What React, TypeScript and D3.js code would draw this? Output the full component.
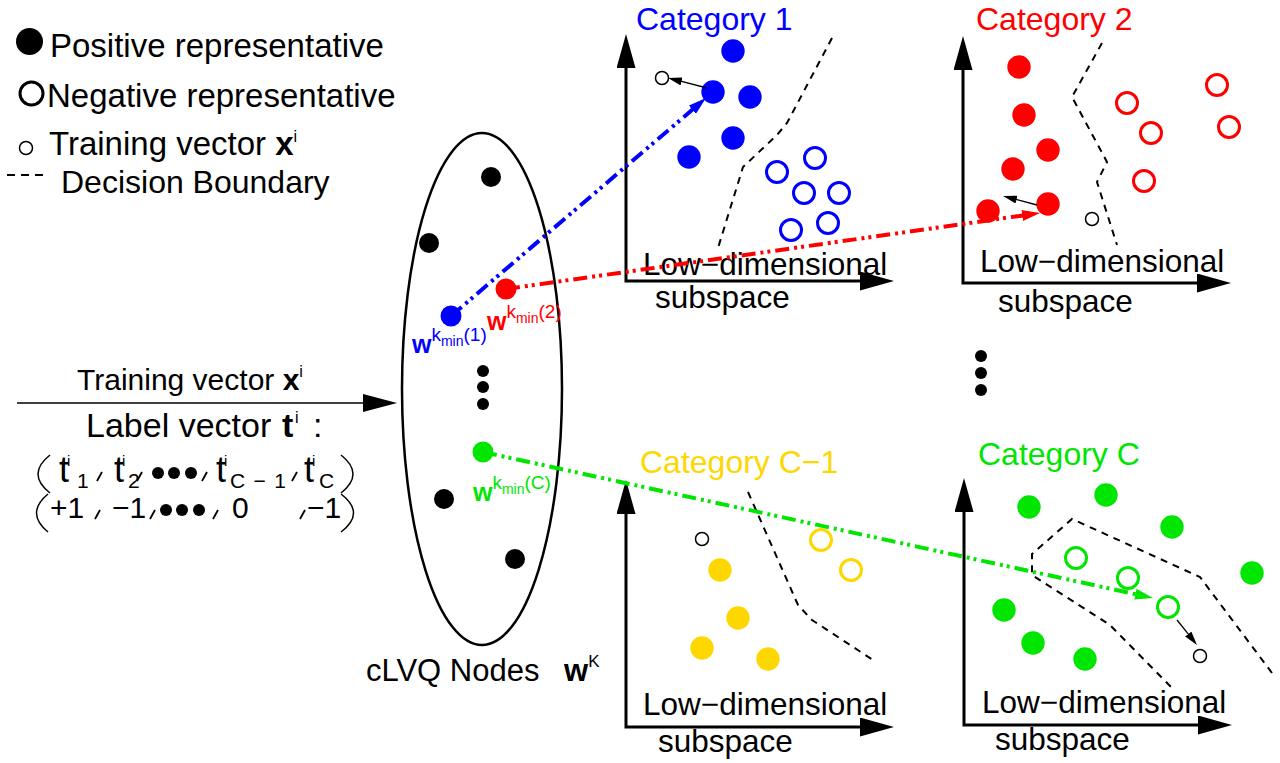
import * as d3 from "d3";

const FONT = "'Liberation Sans', Arial, Helvetica, sans-serif";
const BLUE = "#0000ff";
const RED = "#ff0000";
const GREEN = "#00e600";
const GOLD = "#ffd700";

type Pt = [number, number];

// Panel contents, in axis units from each panel's corner (y grows upward)
const cat1Positive: Pt[] = [[107, 230], [87, 189], [124, 184], [107, 143], [63, 124]];
const cat1Negative: Pt[] = [[189, 123], [151, 109], [178, 88], [213, 88], [165, 51], [202, 58]];
const cat1Training: Pt = [36, 203];
const cat1Boundary: Pt[] = [[206, 243], [161, 158], [151, 146], [117, 114], [92, 33]];
const cat1Update: Pt[] = [[81, 193], [42, 203]];

const cat2Positive: Pt[] = [[56, 216], [61, 168], [85, 133], [50, 114], [85, 79], [25, 72]];
const cat2Negative: Pt[] = [[164, 180], [188, 150], [254, 198], [266, 156], [181, 102]];
const cat2Training: Pt = [129, 64];
const cat2Boundary: Pt[] = [[139, 240], [109, 186], [144, 121], [134, 101], [154, 38]];
const cat2Update: Pt[] = [[74, 78], [40, 87]];

const catC1Positive: Pt[] = [[94, 157], [112, 109], [76, 79], [142, 68]];
const catC1Negative: Pt[] = [[195, 187], [225, 157]];
const catC1Training: Pt = [76, 188];
const catC1Boundary: Pt[] = [[122, 235], [172, 122], [186, 107], [247, 67]];

const catCPositive: Pt[] = [[65, 218], [142, 230], [208, 198], [288, 152], [40, 115], [69, 82], [121, 66]];
const catCNegative: Pt[] = [[112, 167], [164, 147], [204, 118]];
const catCTraining: Pt = [236, 69];
const catCBoundary: Pt[] = [[308, 52], [236, 148], [108, 206], [68, 171], [68, 150], [146, 100], [208, 37]];
const catCUpdate: Pt[] = [[213, 105], [233, 80]];

// cLVQ nodes, offsets from the ellipse centre (y grows downward)
const plainNodes: Pt[] = [[9, -212], [-53, -146], [-38, 110], [33, 170]];
const ellipsisDots: Pt[] = [[1, -18], [1, -2], [1, 15]];
const winnerIndex = ["1", "2", "C"];
const winnerColors = [BLUE, RED, GREEN];
const winnerNodes: Pt[] = [[-31, -73], [24, -100], [1, 63]];
const winnerPanel = [0, 1, 3];
const winnerTips: Pt[] = [[80, 183], [77, 70], [189, 127]];

const titles = ["Category 1", "Category 2", "Category C\u22121", "Category C"];
const titleColors = [BLUE, RED, GOLD, GREEN];

// label vector rows
const row1Subs = ["1", "2", "C\u22121", "C"];
const row2Values = ["+1", "\u22121", "0", "\u22121"];

// layout
const W = 1280;
const H = 763;
const AX_W = 268;
const AX_H = 247;
const panels = [
  { ox: 626, oy: 281, tdx: 10, tdy: 251, ldx: 17, ldy: 6, sdx: 29, sdy: 27,
    pos: cat1Positive, neg: cat1Negative, tr: cat1Training, bd: cat1Boundary, up: cat1Update },
  { ox: 963, oy: 283, tdx: 13, tdy: 253, ldx: 17, ldy: 11, sdx: 35, sdy: 29,
    pos: cat2Positive, neg: cat2Negative, tr: cat2Training, bd: cat2Boundary, up: cat2Update },
  { ox: 626, oy: 727, tdx: 14, tdy: 254, ldx: 17, ldy: 12, sdx: 32, sdy: 25,
    pos: catC1Positive, neg: catC1Negative, tr: catC1Training, bd: catC1Boundary, up: null },
  { ox: 964, oy: 725, tdx: 14, tdy: 260, ldx: 18, ldy: 12, sdx: 31, sdy: 25,
    pos: catCPositive, neg: catCNegative, tr: catCTraining, bd: catCBoundary, up: catCUpdate },
];
const ELL = { cx: 482, cy: 389, rx: 80, ry: 256 };
const winnerLabelOffset: Pt[] = [[-39, 37], [-19, 41], [-10, 49]];
const row1X = [{ t: 59, s: 77, w: 0 }, { t: 114, s: 128, w: 0 }, { t: 216, s: 230, w: 56 }, { t: 304, s: 319, w: 0 }];
const row1Commas = [97, 137, 202, 292];
const row1Dots = [158, 174, 191];
const row2X = [50, 112, 232, 307];
const row2Commas = [95, 150, 213, 300];
const row2Dots = [166, 182, 199];

const panelScales = panels.map((p) => ({
  x: d3.scaleLinear().domain([0, AX_W]).range([p.ox, p.ox + AX_W]),
  y: d3.scaleLinear().domain([0, AX_H]).range([p.oy, p.oy - AX_H]),
}));
const ex = d3.scaleLinear().domain([-ELL.rx, ELL.rx]).range([ELL.cx - ELL.rx, ELL.cx + ELL.rx]);
const ey = d3.scaleLinear().domain([-ELL.ry, ELL.ry]).range([ELL.cy - ELL.ry, ELL.cy + ELL.ry]);

// pull an end point back so the stroke hides under the arrow head
function shorten(x1: number, y1: number, x2: number, y2: number, d: number): Pt {
  const len = Math.hypot(x2 - x1, y2 - y1);
  return [x2 - ((x2 - x1) / len) * d, y2 - ((y2 - y1) / len) * d];
}

const DASH_DOT = "14,5,3,4,3,5";

function Head({ id, color, len, wid, back }: { id: string; color: string; len: number; wid: number; back: number }) {
  return (
    <marker id={id} markerUnits="userSpaceOnUse" viewBox={`0 0 ${len} ${wid}`} markerWidth={len} markerHeight={wid}
      refX={len - back} refY={wid / 2} orient="auto-start-reverse">
      <path d={`M0,0L${len},${wid / 2}L0,${wid}Z`} fill={color} />
    </marker>
  );
}

function Comma({ x, y }: { x: number; y: number }) {
  return <line x1={x + 5} y1={y - 9} x2={x} y2={y} stroke="#000" strokeWidth={1.8} />;
}

export default function App() {
  const line = d3.line<Pt>();
  return (
    <div style={{ position: "absolute", left: 0, top: 0 }}>
      <svg width={W} height={H} viewBox={`0 0 ${W} ${H}`} style={{ display: "block", background: "#fff" }}
        fontFamily={FONT}>
        <defs>
          <Head id="axis" color="#000" len={34} wid={19} back={25} />
          <Head id="h0" color={BLUE} len={18} wid={11} back={12} />
          <Head id="h1" color={RED} len={18} wid={11} back={12} />
          <Head id="h2" color={GREEN} len={18} wid={11} back={12} />
          <Head id="small" color="#000" len={14} wid={8} back={10} />
        </defs>

        {/* legend */}
        <circle cx={29.5} cy={41.5} r={13.5} fill="#000" />
        <text x={50} y={57} fontSize={33}>Positive representative</text>
        <circle cx={31.5} cy={93.5} r={11.5} fill="none" stroke="#000" strokeWidth={3} />
        <text x={47} y={107} fontSize={33}>Negative representative</text>
        <circle cx={26} cy={148} r={6.5} fill="#fff" stroke="#000" strokeWidth={1.5} />
        <text x={49} y={155} fontSize={33}>
          Training vector <tspan fontWeight="bold">x</tspan>
          <tspan fontSize={16} dy={-13}>i</tspan>
        </text>
        <line x1={7} x2={43} y1={175} y2={175} stroke="#000" strokeWidth={2} strokeDasharray="8,6" />
        <text x={61} y={193} fontSize={32}>Decision Boundary</text>

        {/* input */}
        <text x={77} y={390} fontSize={30}>
          Training vector <tspan fontWeight="bold">x</tspan>
          <tspan fontSize={16} dy={-13}>i</tspan>
        </text>
        <line x1={17} y1={403} x2={372} y2={403} stroke="#000" strokeWidth={1.5} />
        <path d="M363,394L397,403L363,412Z" fill="#000" />
        <text x={86} y={437} fontSize={34}>Label vector</text>
        <text x={282} y={437} fontSize={34} fontWeight="bold">t</text>
        <text x={295} y={423} fontSize={16}>i</text>
        <text x={313} y={437} fontSize={34}>:</text>

        <path d="M50,455Q26,474 50,493" fill="none" stroke="#000" strokeWidth={1.5} />
        <path d="M341,455Q365,474 341,493" fill="none" stroke="#000" strokeWidth={1.5} />
        <path d="M48,494Q25,513 48,532" fill="none" stroke="#000" strokeWidth={1.5} />
        <path d="M341,494Q366,513 341,532" fill="none" stroke="#000" strokeWidth={1.5} />
        {row1Subs.map((sub, i) => (
          <g key={i}>
            <text x={row1X[i].t} y={482} fontSize={36}>t</text>
            <text x={row1X[i].t + 8} y={466} fontSize={15}>i</text>
            <text x={row1X[i].s} y={488} fontSize={21}
              {...(row1X[i].w ? { textLength: row1X[i].w, lengthAdjust: "spacing" } : {})}>{sub}</text>
          </g>
        ))}
        {row1Commas.map((x) => <Comma key={x} x={x} y={481} />)}
        {row1Dots.map((x) => <circle key={x} cx={x} cy={473} r={6} fill="#000" />)}
        {row2Values.map((s, i) => (
          <text key={i} x={row2X[i]} y={518} fontSize={30}>{s}</text>
        ))}
        {row2Commas.map((x) => <Comma key={x} x={x} y={519} />)}
        {row2Dots.map((x) => <circle key={x} cx={x} cy={510} r={6} fill="#000" />)}

        {/* panels */}
        {panels.map((p, i) => {
          const { x, y } = panelScales[i];
          return (
            <g key={i}>
              <path d={`M${x(0)},${y(AX_H) + 25}V${y(0)}H${x(AX_W) - 25}`} fill="none" stroke="#000"
                strokeWidth={3} markerStart="url(#axis)" markerEnd="url(#axis)" />
              <text x={p.ox + p.tdx} y={p.oy - p.tdy} fontSize={32} fill={titleColors[i]}>{titles[i]}</text>
              <path d={line(p.bd.map(([a, b]) => [x(a), y(b)] as Pt)) ?? ""} fill="none" stroke="#000"
                strokeWidth={2} strokeDasharray="7,6" />
              {p.pos.map(([a, b], k) => (
                <circle key={`p${k}`} cx={x(a)} cy={y(b)} r={11.7} fill={titleColors[i]} />
              ))}
              {p.neg.map(([a, b], k) => (
                <circle key={`n${k}`} cx={x(a)} cy={y(b)} r={10.5} fill="none" stroke={titleColors[i]} strokeWidth={3} />
              ))}
              <circle cx={x(p.tr[0])} cy={y(p.tr[1])} r={6.5} fill="#fff" stroke="#000" strokeWidth={1.5} />
              {p.up && (() => {
                const [[a1, b1], [a2, b2]] = p.up;
                const end = shorten(x(a1), y(b1), x(a2), y(b2), 10);
                return <line x1={x(a1)} y1={y(b1)} x2={end[0]} y2={end[1]} stroke="#000" strokeWidth={1.3}
                  markerEnd="url(#small)" />;
              })()}
              <text x={p.ox + p.ldx} y={p.oy - p.ldy} fontSize={31.5}>Low{"\u2212"}dimensional</text>
              <text x={p.ox + p.sdx} y={p.oy + p.sdy} fontSize={31.5}>subspace</text>
            </g>
          );
        })}

        {/* cLVQ node set */}
        <ellipse cx={ELL.cx} cy={ELL.cy} rx={ELL.rx} ry={ELL.ry} fill="none" stroke="#000" strokeWidth={2.5} />
        {plainNodes.map(([a, b], k) => <circle key={k} cx={ex(a)} cy={ey(b)} r={10} fill="#000" />)}
        {ellipsisDots.map(([a, b], k) => <circle key={k} cx={ex(a)} cy={ey(b)} r={6} fill="#000" />)}
        <text x={366} y={681} fontSize={31}>cLVQ Nodes</text>
        <text x={564} y={681} fontSize={31}>
          <tspan fontWeight="bold">w</tspan>
          <tspan fontSize={17} dy={-14}>K</tspan>
        </text>

        {winnerNodes.map(([a, b], k) => {
          const s = panelScales[winnerPanel[k]];
          const tip = winnerTips[k];
          const x1 = ex(a);
          const y1 = ey(b);
          const end = shorten(x1, y1, s.x(tip[0]), s.y(tip[1]), 12);
          return (
            <line key={k} x1={x1} y1={y1} x2={end[0]} y2={end[1]} stroke={winnerColors[k]} strokeWidth={4}
              strokeDasharray={DASH_DOT} markerEnd={`url(#h${k})`} />
          );
        })}
        {winnerNodes.map(([a, b], k) => {
          const lx = ex(a) + winnerLabelOffset[k][0];
          const ly = ey(b) + winnerLabelOffset[k][1];
          return (
            <g key={k} fill={winnerColors[k]}>
              <circle cx={ex(a)} cy={ey(b)} r={10.5} />
              <text x={lx} y={ly}>
                <tspan fontWeight="bold" fontSize={25}>w</tspan>
                <tspan fontSize={19} dy={-12}>k</tspan>
                <tspan fontSize={14} dy={5}>min</tspan>
                <tspan fontSize={19} dy={-5}>({winnerIndex[k]})</tspan>
              </text>
            </g>
          );
        })}

        {/* vertical ellipsis between the right panels */}
        {[356, 373, 390].map((cy) => <circle key={cy} cx={981} cy={cy} r={6} fill="#000" />)}
      </svg>
    </div>
  );
}
